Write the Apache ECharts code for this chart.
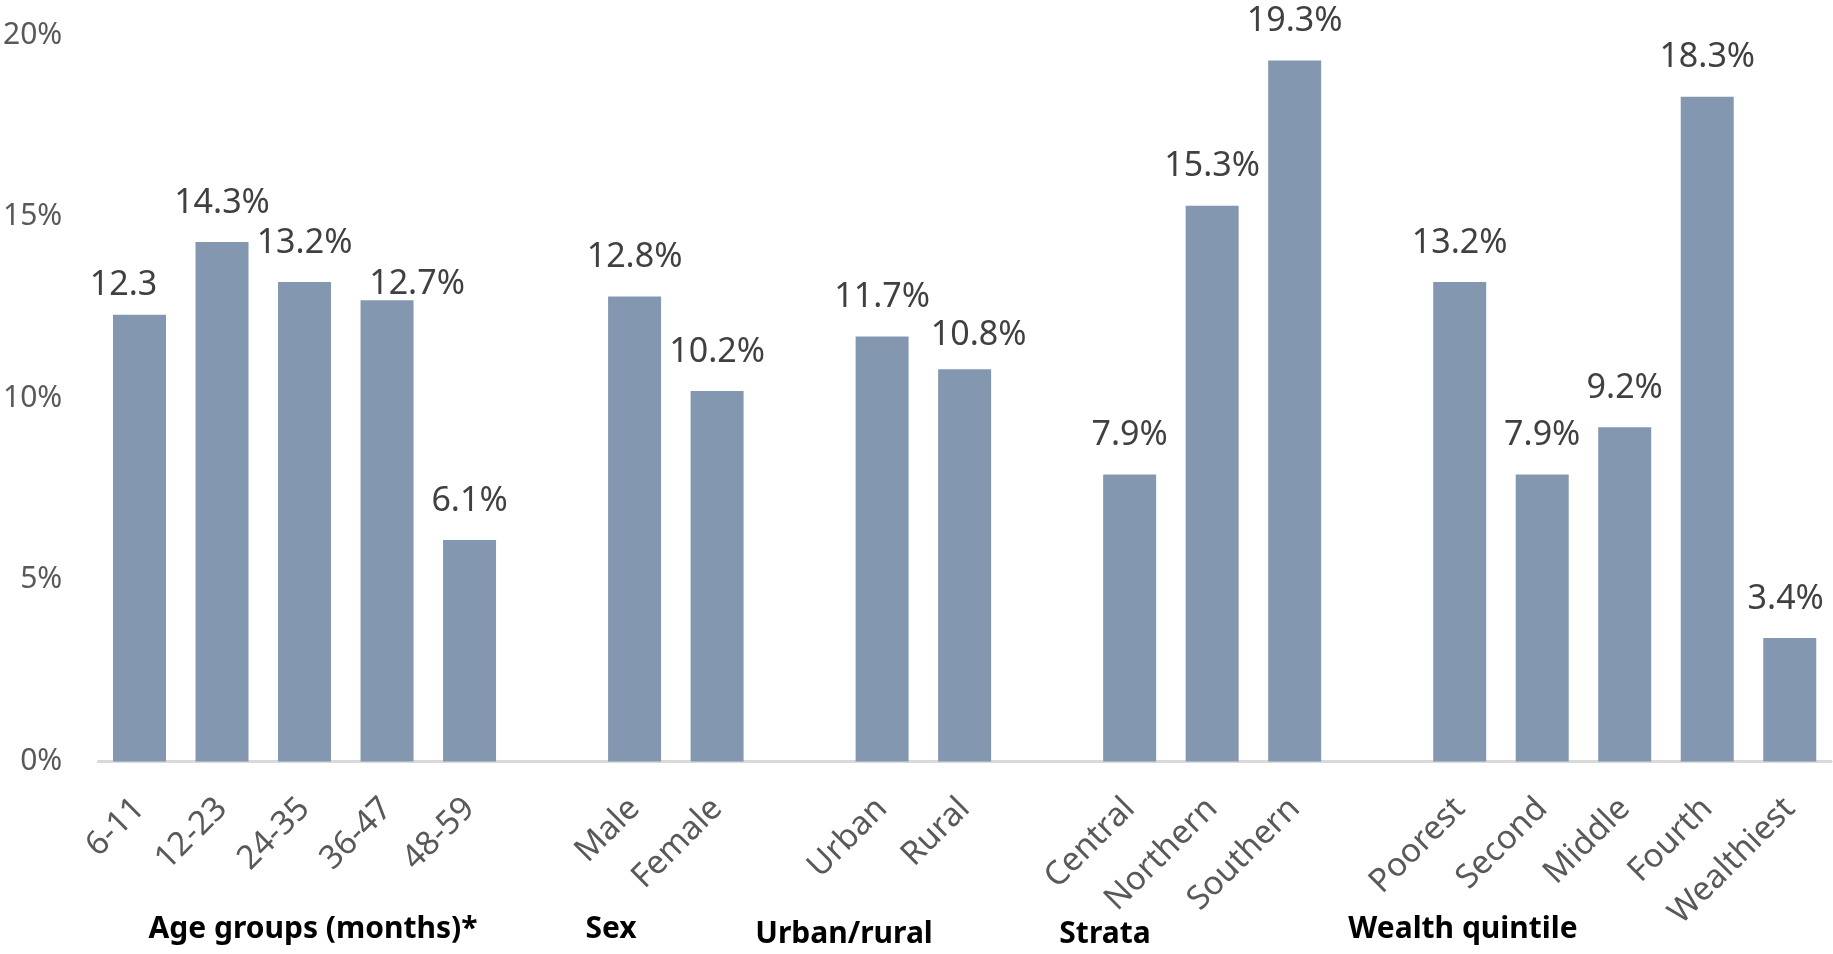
<!DOCTYPE html>
<html>
<head>
<meta charset="utf-8">
<script src="https://cdn.jsdelivr.net/npm/echarts@6/dist/echarts.min.js"></script>
<style>
html,body{margin:0;padding:0;background:#fff;}
#chart{width:1833px;height:954px;}
</style>
</head>
<body>
<div id="chart"></div>
<script>
const categories = ['6-11','12-23','24-35','36-47','48-59','','Male','Female','','Urban','Rural','','Central','Northern','Southern','','Poorest','Second','Middle','Fourth','Wealthiest'];
const values = [12.3,14.3,13.2,12.7,6.1,null,12.8,10.2,null,11.7,10.8,null,7.9,15.3,19.3,null,13.2,7.9,9.2,18.3,3.4];
const valueLabels = ['12.3','14.3%','13.2%','12.7%','6.1%','','12.8%','10.2%','','11.7%','10.8%','','7.9%','15.3%','19.3%','','13.2%','7.9%','9.2%','18.3%','3.4%'];
const yTicks = [0,5,10,15,20];
const groupNames = ['Age groups (months)*','Sex','Urban/rural','Strata','Wealth quintile'];

// layout-only: manual nudges of some value labels (pixels), as in the original figure
const labelNudge = {0:[-16,10],3:[30,23],10:[14,5],20:[-4,0]};
const groupPos = [[313,929],[611,929],[844,934],[1105,934],[1463,929]];

const FONT = 'Noto Sans';
const chart = echarts.init(document.getElementById('chart'));
const seriesData = values.map((v,i)=>{
  const item = {value:v};
  if (labelNudge[i]) item.label = {offset:labelNudge[i]};
  return item;
});
chart.setOption({
  backgroundColor:'#ffffff',
  animation:false,
  grid:{left:97,right:2,top:35,bottom:954-761.5,containLabel:false},
  xAxis:{
    type:'category',
    data:categories,
    axisLine:{show:true,lineStyle:{color:'#d9d9d9',width:3}},
    axisTick:{show:false},
    axisLabel:{interval:0,rotate:45,margin:42,color:'#595959',fontFamily:FONT,fontSize:33}
  },
  yAxis:{
    type:'value',min:yTicks[0],max:yTicks[yTicks.length-1],interval:5,
    axisLine:{show:false},axisTick:{show:false},splitLine:{show:false},
    axisLabel:{formatter:'{value}%',color:'#595959',fontFamily:FONT,fontSize:30,margin:36}
  },
  series:[{
    type:'bar',
    data:seriesData,
    barWidth:53,
    itemStyle:{color:'#8497b0'},
    label:{show:true,position:'top',distance:22,color:'#404040',fontFamily:FONT,fontSize:34,
      formatter:p=>valueLabels[p.dataIndex]}
  }],
  graphic: groupNames.map((g,i)=>({
    type:'text',x:groupPos[i][0],y:groupPos[i][1],
    style:{text:g,fill:'#000',font:'bold 30px "Noto Sans"',textAlign:'center',textVerticalAlign:'middle'}
  }))
});
</script>
</body>
</html>
